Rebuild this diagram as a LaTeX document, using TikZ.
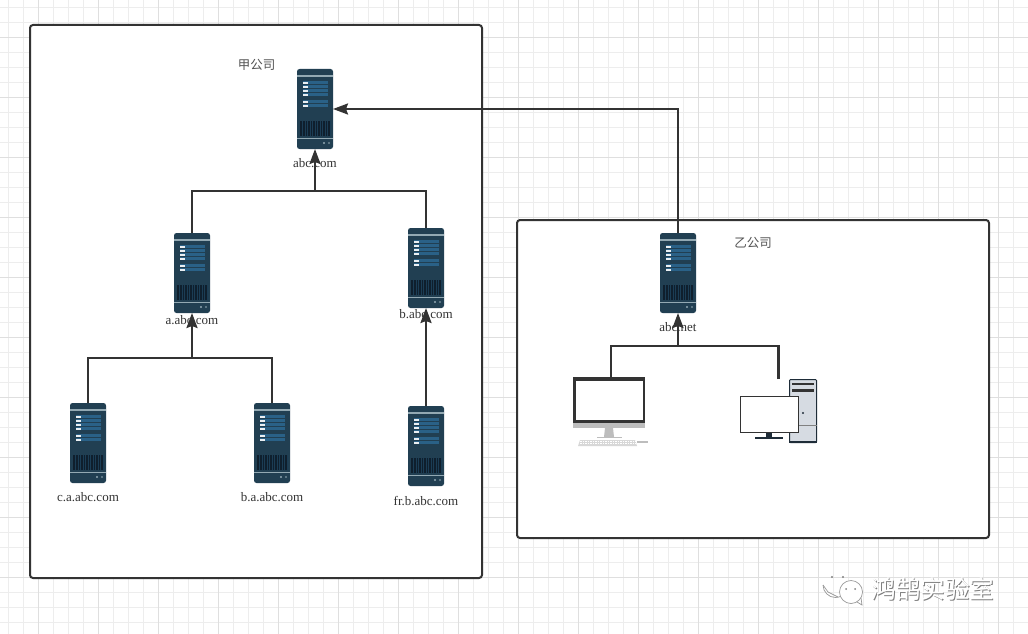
\documentclass[tikz,border=0pt]{standalone}
\usepackage{fontspec}
\setmainfont{Liberation Serif}
\newfontfamily\cjkmark{Noto Sans CJK SC}
\usetikzlibrary{arrows.meta}
\definecolor{ink}{HTML}{333333}
\definecolor{gridminor}{HTML}{EDEDED}
\definecolor{gridmajor}{HTML}{DFDFDF}
\definecolor{srvbody}{HTML}{213F52}
\definecolor{srvbar}{HTML}{2A6187}
\definecolor{srvline}{HTML}{93A9B3}
\definecolor{srvvent}{HTML}{0F1F2D}
\definecolor{towerfill}{HTML}{D6DBE2}
\definecolor{towerdark}{HTML}{1E2C38}
\definecolor{chin}{HTML}{BDBDBD}
\tikzset{
  x=1pt,y=-1pt,
  company/.style={draw=ink,line width=2pt,fill=white,rounded corners=3pt,inner sep=0pt,outer sep=0pt,anchor=north west},
  srvnode/.style={fill=srvbody,rounded corners=2.5pt,minimum width=36pt,minimum height=80pt,inner sep=0pt,outer sep=0pt},
  srvlabel/.style={font=\fontsize{13}{13}\selectfont,text=ink,inner sep=0pt},
  cotitle/.style={font=\cjkmark\fontsize{12.5}{12.5}\selectfont,text=ink!85,inner sep=0pt},
  pcbox/.style={minimum width=#1,inner sep=0pt,outer sep=0pt,anchor=north west},
  link/.style={draw=ink,line width=2.2pt},
  linkarrow/.style={link,-{Stealth[length=15pt,width=11pt,inset=2pt]}},
  mark text/.style={font=\cjkmark\fontsize{24.5}{24.5}\selectfont,inner sep=0pt}
}
% #1 node name, #2 centre x, #3 centre y, #4 label offset, #5 label text
\newcommand{\srvdraw}[5]{%
  \node[srvnode] (#1) at (#2,#3) {};
  \begin{scope}[shift={(#1.north west)}]
    \fill[srvline] (0,6.2) rectangle (36,7.6);
    \foreach \yy in {12.4,16.4,20.4,24.4,31.4,35.4}{
      \fill[srvbar] (6,\yy) rectangle (31,\yy+3);
      \fill[white!90!srvbar] (6,\yy+.8) rectangle (11,\yy+2.3);
    }
    \fill[srvvent] (3,52) rectangle (34,67);
    \foreach \xx in {5,7.5,...,33}{\fill[srvbar!45!srvvent] (\xx,52) rectangle (\xx+.7,67);}
    \fill[srvline] (0,68.8) rectangle (36,70.2);
    \fill[srvline] (27,74) circle (1.1);
    \fill[srvline!70!srvbody] (32,74) circle (1.1);
  \end{scope}
  \node[srvlabel] (#1-label) at (#2,#3+#4) {#5};
}
\begin{document}
\begin{tikzpicture}
\useasboundingbox (0,0) rectangle (1028,634);
\fill[white] (0,0) rectangle (1028,634);
% background grid
\foreach \gx in {8,23,...,1028}{\draw[gridminor,line width=.9pt] (\gx,0) -- (\gx,634);}
\foreach \gy in {7,22,...,634}{\draw[gridminor,line width=.9pt] (0,\gy) -- (1028,\gy);}
\foreach \gx in {38,98,...,1028}{\draw[gridmajor,line width=.9pt] (\gx,0) -- (\gx,634);}
\foreach \gy in {37,97,...,634}{\draw[gridmajor,line width=.9pt] (0,\gy) -- (1028,\gy);}
% company boxes
\node[company,minimum width=452pt,minimum height=553pt] (jia) at (30,25) {};
\node[company,minimum width=472pt,minimum height=318pt] (yi) at (517,220) {};
\node[cotitle] (jiat) at (256.5,65) {甲公司};
\node[cotitle] (yit) at (753,243) {乙公司};
% servers
\srvdraw{root}{315}{109}{54}{abc.com}
\srvdraw{sa}{192}{273}{47}{a.abc.com}
\srvdraw{sb}{426}{268}{46}{b.abc.com}
\srvdraw{sca}{88}{443}{54}{c.a.abc.com}
\srvdraw{sba}{272}{443}{54}{b.a.abc.com}
\srvdraw{sfr}{426}{446}{55}{fr.b.abc.com}
\srvdraw{snet}{678}{273}{54}{abc.net}
% iMac-style computer
\node[pcbox=72pt,minimum height=69pt] (pca) at (573,377) {};
\coordinate (pcatop) at (611,377);
\begin{scope}[shift={(pca.north west)}]
  \fill[chin] (0,0) rectangle (72,51);
  \fill[ink] (0,0) rectangle (72,45.5);
  \fill[white] (2.5,4) rectangle (69.5,42.5);
  \fill[chin] (32,51) -- (40,51) -- (41,60) -- (31,60) -- cycle;
  \fill[chin] (24,59.5) rectangle (49,61);
  \fill[chin!60!white] (7,63) -- (62,63) -- (64,69) -- (5,69) -- cycle;
  \foreach \ky in {64.5,66.5}{\draw[white,line width=.5pt,dash pattern=on 1.5pt off 1pt] (7,\ky) -- (63,\ky);}
  \fill[chin] (64,64) rectangle (75,65.5);
\end{scope}
% tower computer
\node[pcbox=77pt,minimum height=64pt] (pcb) at (740,379) {};
\begin{scope}[shift={(pcb.north west)}]
  \draw[towerdark,fill=towerfill,line width=1pt,rounded corners=1pt] (49.5,.5) rectangle (76.5,63.5);
  \fill[towerdark] (49,61.5) rectangle (77,64);
  \fill[ink] (52,4.2) rectangle (74,5.6);
  \fill[ink] (52,9.5) rectangle (74,13);
  \fill[towerdark] (63,34) circle (1.2);
  \draw[gray,line width=.5pt] (49.5,46) -- (76.5,46);
  \fill[towerdark] (26,53) rectangle (32,58);
  \fill[towerdark] (15,58) rectangle (43,59.5);
  \draw[ink,fill=white,line width=.8pt] (0,17) rectangle (58,53);
\end{scope}
% connectors
\coordinate (jca) at (192,358);
\coordinate (jroot) at (315,191);
\coordinate (jnet) at (678,346);
\draw[link] (sca.north) |- (jca);
\draw[link] (sba.north) |- (jca);
\draw[linkarrow] (jca) -- (sa.south);
\draw[linkarrow] (sfr.north) -- (sb.south);
\draw[link] (sa.north) |- (jroot);
\draw[link] (sb.north) |- (jroot);
\draw[linkarrow] (jroot) -- (root.south);
\draw[linkarrow] (snet.north) |- (root.east);
\draw[link] (pcatop) |- (jnet);
\draw[link] (pcb.north) |- (jnet);
\draw[linkarrow] (jnet) -- (snet.south);
% watermark
\node[mark text,text=black!50] (wm2) at (933.9,589.9) {鸿鹄实验室};
\node[mark text,text=white] (wm) at (933,589) {鸿鹄实验室};
\draw[gray!80,line width=.7pt] (823,585) arc (180:40:12.5);
\draw[gray!80,line width=.7pt] (823,585) -- (828,592) -- (838,597);
\draw[gray!80,line width=.7pt,fill=white] (851,592) circle (11.5);
\fill[gray] (832,577) circle (1.1) (843,577) circle (1.1) (846,589) circle (1) (855,589) circle (1);
\draw[gray!80,line width=.7pt] (857,602) -- (862,605) -- (861,598);
\end{tikzpicture}
\end{document}
